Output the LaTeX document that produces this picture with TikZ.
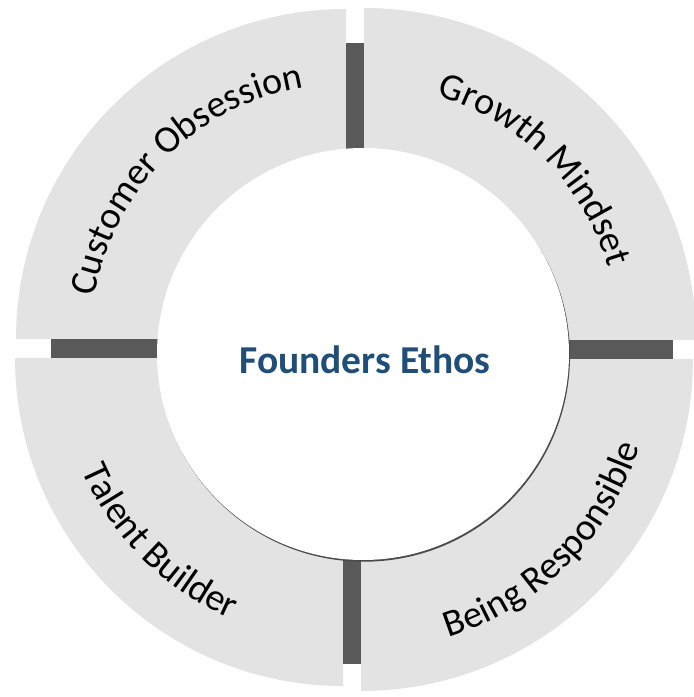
\documentclass[tikz,border=0pt]{standalone}
\usepackage{fontspec}
\setmainfont{Carlito}
\usetikzlibrary{decorations.text}
\definecolor{quadgray}{HTML}{E3E3E3}
\definecolor{bargray}{HTML}{595959}
\definecolor{ethosblue}{HTML}{1F4E79}
\definecolor{rimshadow}{HTML}{4A4A4A}
\newcommand\ringfont{\fontsize{38}{45}\selectfont}

\begin{document}
\begin{tikzpicture}[x=1pt,y=1pt,
    ringtext/.style={decorate,decoration={text along path,text align=center,
      text={|\ringfont|#1}}}]
  \clip (0,0) rectangle (694,697);
  % quarter segments (centre x/y, radius, start angle)
  \foreach \cx/\cy/\rr/\sa in {346/358/330/90, 364/357/332/0,
                               361/338/332/270, 343/339/328/180}
    \fill[quadgray] (\cx,\cy) -- ++(\sa:\rr pt)
      arc[start angle=\sa, delta angle=90, radius=\rr pt] -- cycle;
  % spacer bars in the gaps
  \fill[bargray] (346,654) rectangle (364,540);
  \fill[bargray] (343,33) rectangle (361,150);
  \fill[bargray] (51,339) rectangle (175,358);
  \fill[bargray] (550,338) rectangle (673,357);
  % centre disc, thin shadow at the lower right
  \fill[rimshadow] (364,341.3) circle (206pt);
  \fill[white] (363,343) circle (206pt);
  \node[font=\fontsize{39.5}{46}\selectfont\bfseries,text=ethosblue,anchor=base]
    (ethos) at (365,323) {Founders Ethos};
  % ring labels
  \path[ringtext={Customer Obsession}] (346,358) ++(180:255pt)
    arc[start angle=180, end angle=90, radius=255pt];
  \path[ringtext={Growth Mindset}] (364,357) ++(90:255pt)
    arc[start angle=90, end angle=0, radius=255pt];
  \path[ringtext={Talent Builder}] (343,339) ++(180:284pt)
    arc[start angle=180, end angle=270, radius=284pt];
  \path[ringtext={Being Responsible}] (361,338) ++(270:292pt)
    arc[start angle=270, end angle=360, radius=292pt];
\end{tikzpicture}
\end{document}
